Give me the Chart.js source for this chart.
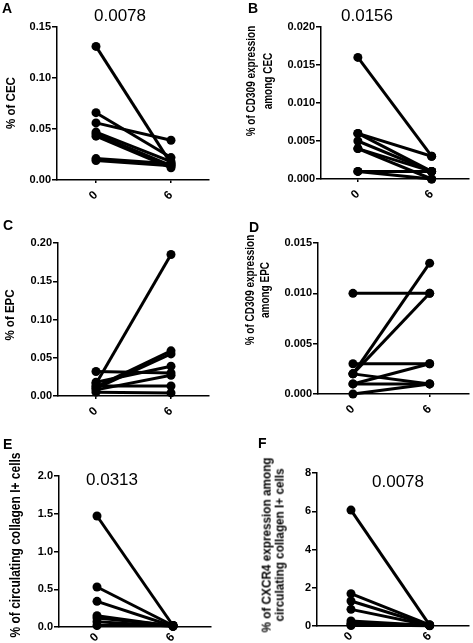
<!DOCTYPE html>
<html>
<head>
<meta charset="utf-8">
<script src="https://cdn.jsdelivr.net/npm/chart.js@4.4.1/dist/chart.umd.min.js"></script>
<style>
  body { margin: 0; background: #fff; }
  #wrap { position: relative; width: 473px; height: 643px; overflow: hidden; font-family: "Liberation Sans", Arial, sans-serif; color: #000; }
  canvas { position: absolute; }
  .lbl { position: absolute; font-weight: bold; font-size: 14px; line-height: 1; }
  .pval { position: absolute; font-size: 17px; line-height: 1; transform: translate(-50%, -50%); white-space: nowrap; }
  .ytitle { position: absolute; font-weight: bold; white-space: nowrap; text-align: center; transform: translate(-50%, -50%) rotate(-90deg) scaleY(1.15); }
  .ytitle.two { transform: translate(-50%, -50%) rotate(-90deg) scaleY(1.25); }
</style>
</head>
<body>
<div id="wrap">
  <canvas id="chartA" width="236" height="210" style="left:0;top:0"></canvas>
  <canvas id="chartB" width="237" height="210" style="left:236px;top:0"></canvas>
  <canvas id="chartC" width="236" height="215" style="left:0;top:210px"></canvas>
  <canvas id="chartD" width="237" height="215" style="left:236px;top:210px"></canvas>
  <canvas id="chartE" width="236" height="218" style="left:0;top:425px"></canvas>
  <canvas id="chartF" width="237" height="218" style="left:236px;top:425px"></canvas>

  <div class="lbl" style="left:2px;top:1px">A</div>
  <div class="lbl" style="left:248px;top:1px">B</div>
  <div class="lbl" style="left:3px;top:218px">C</div>
  <div class="lbl" style="left:249px;top:220px">D</div>
  <div class="lbl" style="left:3px;top:437px">E</div>
  <div class="lbl" style="left:258px;top:436px">F</div>

  <div class="pval" style="left:120px;top:15px">0.0078</div>
  <div class="pval" style="left:367px;top:15px">0.0156</div>
  <div class="pval" style="left:112px;top:479px">0.0313</div>
  <div class="pval" style="left:398px;top:481px">0.0078</div>

  <div class="ytitle" style="left:10px;top:103px;font-size:11.5px">% of CEC</div>
  <div class="ytitle two" style="left:259px;top:81px;font-size:10px;line-height:13px">% of CD309 expression<br>among CEC</div>
  <div class="ytitle" style="left:9px;top:315px;font-size:11.5px">% of EPC</div>
  <div class="ytitle two" style="left:257px;top:290px;font-size:10px;line-height:11.5px">% of CD309 expression<br>among EPC</div>
  <div class="ytitle" style="left:15px;top:545px;font-size:12px">% of circulating collagen I+ cells</div>
  <div class="ytitle" style="left:272px;top:545px;font-size:11.75px;line-height:11.5px">% of CXCR4 expression among<br>circulating collagen I+ cells</div>
</div>

<script>
// time points (weeks)
const timeLabels = ['0', '6'];

// A - % of CEC
const cecW0 = [0.131, 0.066, 0.056, 0.047, 0.045, 0.043, 0.021, 0.019];
const cecW6 = [0.016, 0.022, 0.039, 0.018, 0.014, 0.012, 0.016, 0.014];

// B - % CD309 among CEC
const cd309CecW0 = [0.016, 0.006, 0.006, 0.005, 0.004, 0.004, 0.001, 0.001];
const cd309CecW6 = [0.003, 0.003, 0.001, 0.001, 0.000, 0.001, 0.001, 0.000];

// C - % of EPC
const epcW0 = [0.016, 0.032, 0.012, 0.010, 0.018, 0.008, 0.013, 0.005];
const epcW6 = [0.185, 0.030, 0.059, 0.055, 0.039, 0.027, 0.013, 0.004];

// D - % CD309 among EPC
const cd309EpcW0 = [0.010, 0.002, 0.002, 0.003, 0.002, 0.001, 0.001, 0.000];
const cd309EpcW6 = [0.010, 0.013, 0.010, 0.003, 0.001, 0.003, 0.001, 0.001];

// E - % circulating collagen I+ cells
const colW0 = [1.47, 0.53, 0.34, 0.15, 0.12, 0.07, 0.02];
const colW6 = [0.02, 0.02, 0.01, 0.01, 0.02, 0.01, 0.02];

// F - % CXCR4 among collagen I+ cells
const cxcr4W0 = [6.06, 1.69, 1.31, 0.87, 0.26, 0.14, 0.06, 0.02];
const cxcr4W6 = [0.05, 0.06, 0.04, 0.03, 0.02, 0.03, 0.01, 0.02];

const tickFont = { family: 'Liberation Sans', size: 11, weight: 'bold' };

// g = pixel layout inside the canvas (axis x, plot top/bottom/right, category centres, x label gap)
function makeChart(id, before, after, yMax, yStep, decimals, g) {
  const unit = g.c6 - g.c0;
  const datasets = before.map((v, i) => ({
    data: [{ x: 0, y: v }, { x: 1, y: after[i] }],
    borderColor: '#000',
    backgroundColor: '#000',
    borderWidth: 3,
    pointRadius: 4.5,
    pointHoverRadius: 4.5,
    pointBorderWidth: 0,
    clip: false
  }));

  return new Chart(document.getElementById(id), {
    type: 'line',
    data: { datasets: datasets },
    options: {
      responsive: false,
      animation: false,
      devicePixelRatio: 1,
      layout: { padding: { top: g.top, right: g.w - g.right, left: 0, bottom: 0 } },
      plugins: { legend: { display: false }, tooltip: { enabled: false } },
      scales: {
        x: {
          type: 'linear',
          min: (g.axis - g.c0) / unit,
          max: (g.right - g.c0) / unit,
          afterBuildTicks: s => { s.ticks = [{ value: 0 }, { value: 1 }]; },
          afterFit: s => { s.height = g.h - g.bottom; },
          ticks: {
            callback: v => timeLabels[v],
            color: '#000',
            font: { family: 'Liberation Sans', size: 12, weight: 'bold' },
            minRotation: 45,
            maxRotation: 45,
            padding: g.lp
          },
          grid: { drawOnChartArea: false, tickLength: 3, color: '#000', lineWidth: 1.5 },
          border: { color: '#000', width: 1.5 }
        },
        y: {
          min: 0,
          max: yMax,
          afterFit: s => { s.width = g.axis; },
          ticks: {
            stepSize: yStep,
            callback: v => v.toFixed(decimals),
            color: '#000',
            font: tickFont,
            padding: 1
          },
          grid: { drawOnChartArea: false, tickLength: 5, color: '#000', lineWidth: 1.5 },
          border: { color: '#000', width: 1.5 }
        }
      }
    }
  });
}

makeChart('chartA', cecW0, cecW6, 0.15, 0.05, 2,
  { w: 236, h: 210, axis: 57, top: 27, bottom: 180, right: 209, c0: 96, c6: 171, lp: 5 });
makeChart('chartB', cd309CecW0, cd309CecW6, 0.02, 0.005, 3,
  { w: 237, h: 210, axis: 85, top: 27, bottom: 179, right: 237, c0: 123, c6: 199, lp: 5 });
makeChart('chartC', epcW0, epcW6, 0.2, 0.05, 2,
  { w: 236, h: 215, axis: 58, top: 33, bottom: 186, right: 209, c0: 96, c6: 171, lp: 5 });
makeChart('chartD', cd309EpcW0, cd309EpcW6, 0.015, 0.005, 3,
  { w: 237, h: 215, axis: 82, top: 33, bottom: 184, right: 237, c0: 118, c6: 197, lp: 5 });
makeChart('chartE', colW0, colW6, 2, 0.5, 1,
  { w: 236, h: 218, axis: 59, top: 51, bottom: 202, right: 211, c0: 97, c6: 173, lp: 0 });
makeChart('chartF', cxcr4W0, cxcr4W6, 8, 2, 0,
  { w: 237, h: 218, axis: 81, top: 48, bottom: 201, right: 237, c0: 116, c6: 197, lp: 0 });
</script>
</body>
</html>
